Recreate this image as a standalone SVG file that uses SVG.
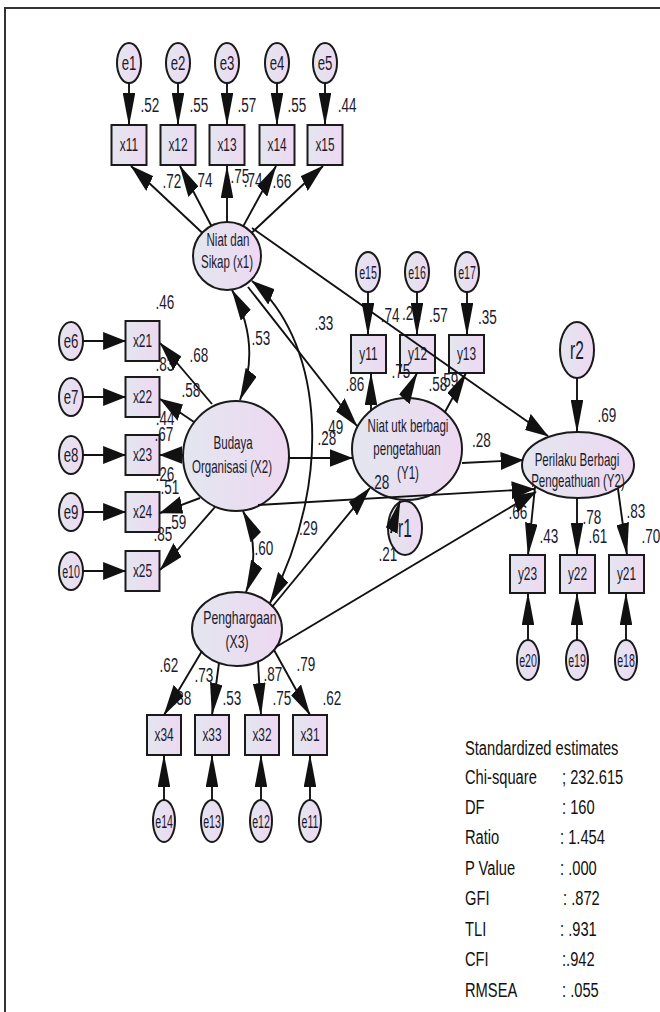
<svg xmlns="http://www.w3.org/2000/svg" width="660" height="1012" viewBox="0 0 660 1012">
<defs>
<linearGradient id="g" x1="0" y1="0" x2="1" y2="0"><stop offset="0" stop-color="#e3e6ef"/><stop offset="1" stop-color="#eed8f1"/></linearGradient>
<marker id="ah" markerUnits="userSpaceOnUse" markerWidth="33" markerHeight="18" viewBox="0 0 33 18" refX="32" refY="9" orient="auto-start-reverse"><path d="M0,0 L33,9 L0,18 Z" fill="#111"/></marker>
</defs>
<style>
.n{fill:url(#g);stroke:#1a1a1a;stroke-width:2}
.t{font-family:"Liberation Sans",Arial,sans-serif;fill:#1a1a2e;text-anchor:middle;transform-box:fill-box;transform-origin:center;transform:scaleX(0.7)}
.nt{font-size:17.5px;transform:scaleX(0.66)}
.bt{font-size:18px;transform:scaleX(0.66)}
.et{font-size:20px;transform:scaleX(0.66)}
.et2{font-size:19px;transform:scaleX(0.56)}
.rt{font-size:25px;transform:scaleX(0.62)}
.lb{font-size:20.5px;transform:scaleX(0.66)}
.st{font-size:21px;text-anchor:start;transform-origin:left center;fill:#111}
#connectors line,#connectors path{fill:none;stroke:#111;stroke-width:1.9;vector-effect:non-scaling-stroke;marker-end:url(#ah)}
#connectors .cov{marker-start:url(#ah)}
</style>
<rect width="660" height="1012" fill="#fff"/>
<path d="M5,1012 V8 H660" fill="none" stroke="#333" stroke-width="2"/>

<g id="e1"><ellipse class="n" cx="129" cy="63" rx="12" ry="20"/><text class="t et" x="129" y="70">e1</text></g>
<g id="e2"><ellipse class="n" cx="178" cy="63" rx="12" ry="20"/><text class="t et" x="178" y="70">e2</text></g>
<g id="e3"><ellipse class="n" cx="227" cy="63" rx="12" ry="20"/><text class="t et" x="227" y="70">e3</text></g>
<g id="e4"><ellipse class="n" cx="277" cy="63" rx="12" ry="20"/><text class="t et" x="277" y="70">e4</text></g>
<g id="e5"><ellipse class="n" cx="325" cy="63" rx="12" ry="20"/><text class="t et" x="325" y="70">e5</text></g>
<g id="x11"><rect class="n" x="111.5" y="125" width="35" height="40"/><text class="t bt" x="129" y="151.5">x11</text></g>
<g id="x12"><rect class="n" x="160.5" y="125" width="35" height="40"/><text class="t bt" x="178" y="151.5">x12</text></g>
<g id="x13"><rect class="n" x="209.5" y="125" width="35" height="40"/><text class="t bt" x="227" y="151.5">x13</text></g>
<g id="x14"><rect class="n" x="259.5" y="125" width="35" height="40"/><text class="t bt" x="277" y="151.5">x14</text></g>
<g id="x15"><rect class="n" x="307.5" y="125" width="35" height="40"/><text class="t bt" x="325" y="151.5">x15</text></g>
<g id="X1"><ellipse class="n" cx="227" cy="256" rx="34" ry="34"/><text class="t nt" x="228" y="246">Niat dan</text><text class="t nt" x="227" y="268">Sikap (x1)</text></g>

<g id="e6"><ellipse class="n" cx="71" cy="341" rx="12" ry="19"/><text class="t et" x="71" y="348">e6</text></g>
<g id="e7"><ellipse class="n" cx="71" cy="397" rx="12" ry="19"/><text class="t et" x="71" y="404">e7</text></g>
<g id="e8"><ellipse class="n" cx="71" cy="455" rx="12" ry="19"/><text class="t et" x="71" y="462">e8</text></g>
<g id="e9"><ellipse class="n" cx="71" cy="512" rx="12" ry="19"/><text class="t et" x="71" y="519">e9</text></g>
<g id="e10"><ellipse class="n" cx="71" cy="571" rx="12" ry="19"/><text class="t et2" x="71" y="578">e10</text></g>
<g id="x21"><rect class="n" x="125.5" y="321" width="34" height="40"/><text class="t bt" x="142.5" y="347.5">x21</text></g>
<g id="x22"><rect class="n" x="125.5" y="377" width="34" height="40"/><text class="t bt" x="142.5" y="403.5">x22</text></g>
<g id="x23"><rect class="n" x="125.5" y="435" width="34" height="40"/><text class="t bt" x="142.5" y="461.5">x23</text></g>
<g id="x24"><rect class="n" x="125.5" y="492" width="34" height="40"/><text class="t bt" x="142.5" y="518.5">x24</text></g>
<g id="x25"><rect class="n" x="125.5" y="551" width="34" height="40"/><text class="t bt" x="142.5" y="577.5">x25</text></g>
<g id="X2"><ellipse class="n" cx="236" cy="456" rx="53" ry="55"/><text class="t nt" x="233" y="449">Budaya</text><text class="t nt" x="232" y="473">Organisasi (X2)</text></g>

<g id="e15"><ellipse class="n" cx="368" cy="272" rx="12" ry="20"/><text class="t et2" x="368" y="279">e15</text></g>
<g id="e16"><ellipse class="n" cx="417" cy="272" rx="12" ry="20"/><text class="t et2" x="417" y="279">e16</text></g>
<g id="e17"><ellipse class="n" cx="467" cy="272" rx="12" ry="20"/><text class="t et2" x="467" y="279">e17</text></g>
<g id="y11"><rect class="n" x="351" y="335" width="35" height="38"/><text class="t bt" x="368.5" y="360.5">y11</text></g>
<g id="y12"><rect class="n" x="400" y="335" width="35" height="38"/><text class="t bt" x="417.5" y="360.5">y12</text></g>
<g id="y13"><rect class="n" x="449" y="335" width="35" height="38"/><text class="t bt" x="466.5" y="360.5">y13</text></g>
<g id="Y1"><ellipse class="n" cx="407" cy="449" rx="55" ry="51"/><text class="t nt" x="408" y="432">Niat utk berbagi</text><text class="t nt" x="407" y="455">pengetahuan</text><text class="t nt" x="408" y="479">(Y1)</text></g>
<g id="r1"><ellipse class="n" cx="405" cy="528" rx="17" ry="27"/><text class="t rt" x="405" y="537">r1</text></g>

<g id="r2"><ellipse class="n" cx="577" cy="350" rx="17" ry="28"/><text class="t rt" x="577" y="359">r2</text></g>
<g id="Y2"><ellipse class="n" cx="578" cy="465" rx="56" ry="33"/><text class="t nt" x="577" y="466">Perilaku Berbagi</text><text class="t nt" x="578" y="487">Pengeathuan (Y2)</text></g>
<g id="y23"><rect class="n" x="510" y="555" width="35" height="38"/><text class="t bt" x="527.5" y="580.5">y23</text></g>
<g id="y22"><rect class="n" x="560" y="555" width="35" height="38"/><text class="t bt" x="577.5" y="580.5">y22</text></g>
<g id="y21"><rect class="n" x="609" y="555" width="35" height="38"/><text class="t bt" x="626.5" y="580.5">y21</text></g>
<g id="e20"><ellipse class="n" cx="528" cy="660" rx="11" ry="20"/><text class="t et2" x="528" y="667">e20</text></g>
<g id="e19"><ellipse class="n" cx="577" cy="660" rx="11" ry="20"/><text class="t et2" x="577" y="667">e19</text></g>
<g id="e18"><ellipse class="n" cx="626" cy="660" rx="11" ry="20"/><text class="t et2" x="626" y="667">e18</text></g>

<g id="X3"><ellipse class="n" cx="237" cy="629" rx="45" ry="37"/><text class="t nt" x="240" y="624" style="font-size:18.5px">Penghargaan</text><text class="t nt" x="237" y="648" style="font-size:18.5px">(X3)</text></g>
<g id="x34"><rect class="n" x="147" y="715" width="34" height="40"/><text class="t bt" x="164" y="741.5">x34</text></g>
<g id="x33"><rect class="n" x="195" y="715" width="34" height="40"/><text class="t bt" x="212" y="741.5">x33</text></g>
<g id="x32"><rect class="n" x="245" y="715" width="34" height="40"/><text class="t bt" x="262" y="741.5">x32</text></g>
<g id="x31"><rect class="n" x="293" y="715" width="34" height="40"/><text class="t bt" x="310" y="741.5">x31</text></g>
<g id="e14"><ellipse class="n" cx="164" cy="821" rx="11" ry="21"/><text class="t et2" x="164" y="828">e14</text></g>
<g id="e13"><ellipse class="n" cx="212" cy="821" rx="11" ry="21"/><text class="t et2" x="212" y="828">e13</text></g>
<g id="e12"><ellipse class="n" cx="261" cy="821" rx="11" ry="21"/><text class="t et2" x="261" y="828">e12</text></g>
<g id="e11"><ellipse class="n" cx="310" cy="821" rx="11" ry="21"/><text class="t et2" x="310" y="828">e11</text></g>

<g id="labels">
<text class="t lb" x="150" y="112">.52</text><text class="t lb" x="199" y="112">.55</text><text class="t lb" x="247" y="112">.57</text><text class="t lb" x="297" y="112">.55</text><text class="t lb" x="347" y="112">.44</text>
<text class="t lb" x="172" y="188">.72</text><text class="t lb" x="203" y="187">.74</text><text class="t lb" x="240" y="183">.75</text><text class="t lb" x="253" y="187">.74</text><text class="t lb" x="282" y="188">.66</text>
<text class="t lb" x="165" y="309">.46</text><text class="t lb" x="199" y="362">.68</text><text class="t lb" x="165" y="371">.83</text><text class="t lb" x="191" y="397">.58</text><text class="t lb" x="165" y="425">.44</text><text class="t lb" x="164" y="441">.67</text><text class="t lb" x="165" y="481">.26</text><text class="t lb" x="170" y="494">.51</text><text class="t lb" x="177" y="529">.59</text><text class="t lb" x="163" y="541">.85</text>
<text class="t lb" x="261" y="345">.53</text><text class="t lb" x="264" y="555">.60</text>
<text class="t lb" x="324" y="330">.33</text><text class="t lb" x="390" y="322">.74</text><text class="t lb" x="411.5" y="320">.21</text><text class="t lb" x="438.5" y="322">.57</text><text class="t lb" x="487.5" y="324">.35</text>
<text class="t lb" x="355" y="391">.86</text><text class="t lb" x="401" y="378">.75</text><text class="t lb" x="438" y="391">.58</text><text class="t lb" x="449" y="387">.59</text>
<text class="t lb" x="334" y="434">.49</text><text class="t lb" x="327" y="445">.28</text><text class="t lb" x="481.5" y="447">.28</text><text class="t lb" x="380" y="489">.28</text><text class="t lb" x="308.5" y="535">.29</text><text class="t lb" x="388" y="561">.21</text><text class="t lb" x="607" y="422">.69</text>
<text class="t lb" x="518" y="519">.66</text><text class="t lb" x="549" y="543">.43</text><text class="t lb" x="592" y="524">.78</text><text class="t lb" x="598" y="543">.61</text><text class="t lb" x="636" y="518">.83</text><text class="t lb" x="651" y="543">.70</text>
<text class="t lb" x="169" y="672">.62</text><text class="t lb" x="204" y="682">.73</text><text class="t lb" x="273" y="681">.87</text><text class="t lb" x="306" y="671">.79</text>
<text class="t lb" x="182" y="705">.38</text><text class="t lb" x="232" y="705">.53</text><text class="t lb" x="282" y="705">.75</text><text class="t lb" x="332" y="705">.62</text>
</g>

<g id="connectors" transform="scale(0.7 1)">
<line x1="184.29" y1="83" x2="184.29" y2="125"/>
<line x1="254.29" y1="83" x2="254.29" y2="125"/>
<line x1="324.29" y1="83" x2="324.29" y2="125"/>
<line x1="395.71" y1="83" x2="395.71" y2="125"/>
<line x1="464.29" y1="83" x2="464.29" y2="125"/>
<line x1="288.86" y1="232.7" x2="187.14" y2="166"/>
<line x1="301.86" y1="225.8" x2="257.14" y2="166"/>
<line x1="324.29" y1="222" x2="324.29" y2="166"/>
<line x1="347.57" y1="226.1" x2="394.29" y2="166"/>
<line x1="359.71" y1="232.7" x2="461.43" y2="166"/>
<line x1="118.57" y1="341" x2="179.29" y2="341"/>
<line x1="118.57" y1="397" x2="179.29" y2="397"/>
<line x1="118.57" y1="455" x2="179.29" y2="455"/>
<line x1="118.57" y1="512" x2="179.29" y2="512"/>
<line x1="118.57" y1="571" x2="179.29" y2="571"/>
<line x1="302.86" y1="404" x2="228.57" y2="343"/>
<line x1="277.14" y1="422" x2="228.57" y2="399"/>
<line x1="261.43" y1="455" x2="228.57" y2="455"/>
<line x1="285.71" y1="498" x2="228.57" y2="513"/>
<line x1="307.14" y1="507" x2="228.57" y2="570"/>
<path class="cov" d="M331.43,290 Q374.29,345 342.86,400"/>
<path class="cov" d="M347.14,511 Q374.29,550 351.43,592"/>
<path class="cov" d="M360,281 C454.29,335 482.86,470 385.71,603"/>
<line x1="354.29" y1="287" x2="510" y2="426"/>
<line x1="360" y1="228" x2="782.86" y2="436"/>
<line x1="412.86" y1="458" x2="502.86" y2="458"/>
<line x1="368.57" y1="505" x2="762.86" y2="489"/>
<line x1="388.57" y1="607" x2="528.57" y2="488"/>
<line x1="394.29" y1="647" x2="765.71" y2="492"/>
<line x1="660" y1="463" x2="747.14" y2="460"/>
<line x1="530" y1="411" x2="530" y2="373"/>
<line x1="578.57" y1="398" x2="595.71" y2="373"/>
<line x1="635.71" y1="412" x2="665.71" y2="373"/>
<line x1="525.71" y1="292" x2="525.71" y2="335"/>
<line x1="595.71" y1="292" x2="595.71" y2="335"/>
<line x1="667.14" y1="292" x2="667.14" y2="335"/>
<line x1="558.57" y1="533" x2="571.43" y2="501"/>
<line x1="824.29" y1="378" x2="824.29" y2="432"/>
<line x1="764.29" y1="487" x2="754.29" y2="555"/>
<line x1="824.29" y1="498" x2="824.29" y2="555"/>
<line x1="882.86" y1="489" x2="895.71" y2="555"/>
<line x1="754.29" y1="640" x2="754.29" y2="593"/>
<line x1="824.29" y1="640" x2="824.29" y2="593"/>
<line x1="894.29" y1="640" x2="894.29" y2="593"/>
<line x1="288.57" y1="651" x2="234.29" y2="715"/>
<line x1="312.86" y1="663" x2="302.86" y2="715"/>
<line x1="368.57" y1="662" x2="372.86" y2="715"/>
<line x1="391.43" y1="650" x2="442.86" y2="715"/>
<line x1="234.29" y1="800" x2="234.29" y2="755"/>
<line x1="302.86" y1="800" x2="302.86" y2="755"/>
<line x1="372.86" y1="800" x2="372.86" y2="755"/>
<line x1="442.86" y1="800" x2="442.86" y2="755"/>
</g>

<g id="fit">
<text class="t st" x="465" y="755">Standardized estimates</text>
<text class="t st" x="465" y="784">Chi-square</text><text class="t st" x="562" y="784">; 232.615</text>
<text class="t st" x="465" y="814">DF</text><text class="t st" x="562" y="814">: 160</text>
<text class="t st" x="465" y="844.5">Ratio</text><text class="t st" x="560" y="844.5">: 1.454</text>
<text class="t st" x="465" y="875">P Value</text><text class="t st" x="560" y="875">: .000</text>
<text class="t st" x="465" y="905">GFI</text><text class="t st" x="563" y="905">: .872</text>
<text class="t st" x="465" y="936">TLI</text><text class="t st" x="560" y="936">: .931</text>
<text class="t st" x="465" y="966.5">CFI</text><text class="t st" x="562" y="966.5">:.942</text>
<text class="t st" x="465" y="997">RMSEA</text><text class="t st" x="562" y="997">: .055</text>
</g>
</svg>
